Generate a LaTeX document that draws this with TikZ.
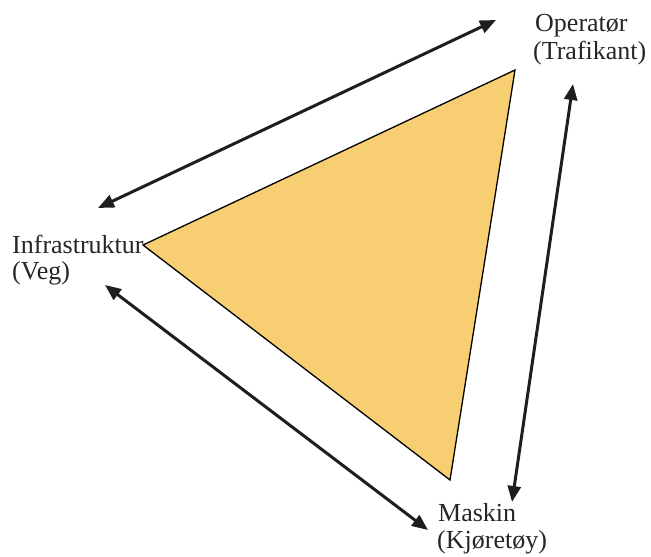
\documentclass[tikz,border=0pt]{standalone}
\usepackage{fontspec}
\setmainfont{Liberation Serif}
\usetikzlibrary{arrows.meta}
\definecolor{triyellow}{RGB}{247,206,114}
\definecolor{arrowgray}{RGB}{30,30,30}
\tikzset{
  lbl/.style={anchor=base west, inner sep=0pt, font=\fontsize{26}{28}\selectfont, text=black!85},
  dblarrow/.style={line width=3pt, draw=arrowgray, {Triangle[length=16pt,width=13pt]}-{Triangle[length=16pt,width=13pt]}},
  tri/.style={fill=triyellow, draw=black, line width=1.3pt, line join=miter}
}
\begin{document}
\begin{tikzpicture}[x=1pt,y=-1pt]
\useasboundingbox (0,0) rectangle (651,557);
% labels
\node[lbl] (op1) at (535,31) {Operatør};
\node[lbl] (op2) at (533,59) {(Trafikant)};
\node[lbl] (in1) at (12,253) {Infrastruktur};
\node[lbl] (in2) at (12,279) {(Veg)};
\node[lbl] (ma1) at (438,521) {Maskin};
\node[lbl] (ma2) at (437,548) {(Kjøretøy)};
% triangle
\coordinate (tA) at (143,245);
\coordinate (tB) at (515,70);
\coordinate (tC) at (450,480);
\draw[tri] (tA) -- (tB) -- (tC) -- cycle;
% arrows
\coordinate (a1s) at (98,208);
\coordinate (a1e) at (496,20);
\coordinate (a2s) at (573,84);
\coordinate (a2e) at (512,502);
\coordinate (a3s) at (105,285);
\coordinate (a3e) at (428,530);
\draw[dblarrow] (a1s) -- (a1e);
\draw[dblarrow] (a2s) -- (a2e);
\draw[dblarrow] (a3s) -- (a3e);
\end{tikzpicture}
\end{document}
